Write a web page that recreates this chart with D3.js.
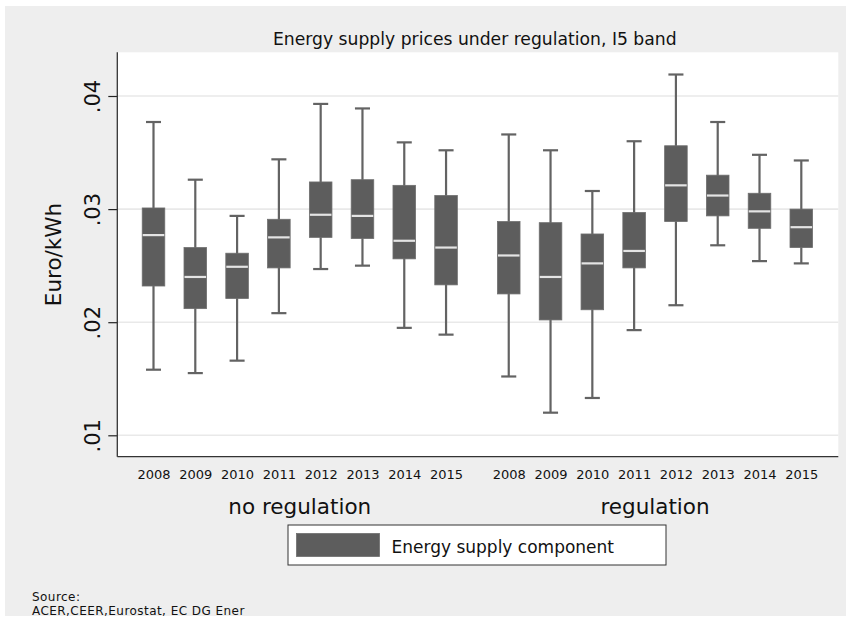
<!DOCTYPE html>
<html>
<head>
<meta charset="utf-8">
<script src="https://cdn.jsdelivr.net/npm/d3@7/dist/d3.min.js"></script>
<style>
  html, body { margin: 0; padding: 0; background: #ffffff; }
  svg { display: block; font-family: "DejaVu Sans", Verdana, sans-serif; }
</style>
</head>
<body>
<svg id="chart" width="850" height="622"></svg>
<script>
// ---- data ----
const years = ["2008", "2009", "2010", "2011", "2012", "2013", "2014", "2015"];
const groups = ["no regulation", "regulation"];
const yTicks = [0.01, 0.02, 0.03, 0.04];
const yTickLabels = [".01", ".02", ".03", ".04"];

// no regulation
const noRegUpper  = [0.0377, 0.0326, 0.0294, 0.0344, 0.0393, 0.0389, 0.0359, 0.0352];
const noRegQ3     = [0.0301, 0.0266, 0.0261, 0.0291, 0.0324, 0.0326, 0.0321, 0.0312];
const noRegMedian = [0.0277, 0.0240, 0.0249, 0.0275, 0.0295, 0.0294, 0.0272, 0.0266];
const noRegQ1     = [0.0232, 0.0212, 0.0221, 0.0248, 0.0275, 0.0274, 0.0256, 0.0233];
const noRegLower  = [0.0158, 0.0155, 0.0166, 0.0208, 0.0247, 0.0250, 0.0195, 0.0189];

// regulation
const regUpper  = [0.0366, 0.0352, 0.0316, 0.0360, 0.0419, 0.0377, 0.0348, 0.0343];
const regQ3     = [0.0289, 0.0288, 0.0278, 0.0297, 0.0356, 0.0330, 0.0314, 0.0300];
const regMedian = [0.0259, 0.0240, 0.0252, 0.0263, 0.0321, 0.0312, 0.0298, 0.0284];
const regQ1     = [0.0225, 0.0202, 0.0211, 0.0248, 0.0289, 0.0294, 0.0283, 0.0266];
const regLower  = [0.0152, 0.0120, 0.0133, 0.0193, 0.0215, 0.0268, 0.0254, 0.0252];

const titleText = "Energy supply prices under regulation, I5 band";
const yTitle = "Euro/kWh";
const legendLabel = "Energy supply component";
const sourceLines = ["Source:", "ACER,CEER,Eurostat, EC DG Ener"];

// ---- build table ----
const seriesByGroup = [
  {upper: noRegUpper, q3: noRegQ3, med: noRegMedian, q1: noRegQ1, lower: noRegLower},
  {upper: regUpper, q3: regQ3, med: regMedian, q1: regQ1, lower: regLower}
];
const boxes = [];
seriesByGroup.forEach((s, g) => {
  years.forEach((yr, i) => {
    boxes.push({group: g, year: yr, pos: i + g * 8.5,
      upper: s.upper[i], q3: s.q3[i], med: s.med[i], q1: s.q1[i], lower: s.lower[i]});
  });
});

// ---- layout ----
const svg = d3.select("#chart");
const plot = {left: 117.3, right: 838.3, top: 52.3, bottom: 456.7};

const x = d3.scaleLinear().domain([0, 15.5]).range([153.5, 801.3]);
const y = d3.scaleLinear().domain([0.01, 0.04]).range([435.3, 96]);

const boxFill = "#5d5d5d";
const whiskerColor = "#636363";

// graph background
svg.append("rect").attr("x", 0).attr("y", 0).attr("width", 850).attr("height", 622).attr("fill", "#ffffff");
svg.append("rect").attr("x", 5).attr("y", 6).attr("width", 841).attr("height", 610).attr("fill", "#eeeeee");

// plot region
svg.append("rect").attr("x", plot.left).attr("y", plot.top)
  .attr("width", plot.right - plot.left).attr("height", plot.bottom - plot.top)
  .attr("fill", "#ffffff");

// gridlines
svg.append("g").selectAll("line").data(yTicks).join("line")
  .attr("x1", plot.left).attr("x2", plot.right)
  .attr("y1", d => y(d)).attr("y2", d => y(d))
  .attr("stroke", "#e9e9e9").attr("stroke-width", 1.6);

// y axis
const yAxis = d3.axisLeft(y).tickValues(yTicks)
  .tickFormat((d, i) => yTickLabels[i]).tickSize(9).tickSizeOuter(0);
const gy = svg.append("g").attr("transform", `translate(${plot.left},0)`).call(yAxis);
gy.select(".domain").remove();
gy.selectAll(".tick line").attr("stroke", "#222").attr("stroke-width", 1.2);
gy.selectAll(".tick text")
  .attr("transform", "rotate(-90)")
  .attr("x", 0).attr("y", -17).attr("dy", 0)
  .attr("text-anchor", "middle")
  .attr("font-size", 21).attr("fill", "#111")
  .attr("font-family", "DejaVu Sans");

// axis lines
svg.append("line").attr("x1", plot.left).attr("x2", plot.left)
  .attr("y1", plot.top).attr("y2", plot.bottom).attr("stroke", "#333").attr("stroke-width", 1.3);
svg.append("line").attr("x1", plot.left).attr("x2", plot.right)
  .attr("y1", plot.bottom).attr("y2", plot.bottom).attr("stroke", "#333").attr("stroke-width", 1.3);

// boxes
const bw = x(0.54) - x(0);
const capW = x(0.36) - x(0);
const gb = svg.append("g").selectAll("g").data(boxes).join("g");
gb.append("line")
  .attr("x1", d => x(d.pos)).attr("x2", d => x(d.pos))
  .attr("y1", d => y(d.upper)).attr("y2", d => y(d.lower))
  .attr("stroke", whiskerColor).attr("stroke-width", 2.2);
gb.append("line")
  .attr("x1", d => x(d.pos) - capW / 2).attr("x2", d => x(d.pos) + capW / 2)
  .attr("y1", d => y(d.upper)).attr("y2", d => y(d.upper))
  .attr("stroke", whiskerColor).attr("stroke-width", 2.2);
gb.append("line")
  .attr("x1", d => x(d.pos) - capW / 2).attr("x2", d => x(d.pos) + capW / 2)
  .attr("y1", d => y(d.lower)).attr("y2", d => y(d.lower))
  .attr("stroke", whiskerColor).attr("stroke-width", 2.2);
gb.append("rect")
  .attr("x", d => x(d.pos) - bw / 2).attr("width", bw)
  .attr("y", d => y(d.q3)).attr("height", d => y(d.q1) - y(d.q3))
  .attr("fill", boxFill).attr("stroke", "#6e6e6e").attr("stroke-width", 0.8);
gb.append("line")
  .attr("x1", d => x(d.pos) - bw / 2 + 0.5).attr("x2", d => x(d.pos) + bw / 2 - 0.5)
  .attr("y1", d => y(d.med)).attr("y2", d => y(d.med))
  .attr("stroke", "#e4e4e4").attr("stroke-width", 2.2);

// year labels
const xAxis = d3.axisBottom(x).tickValues(boxes.map(d => d.pos))
  .tickFormat((d, i) => boxes[i].year).tickSize(0);
const gx = svg.append("g").attr("transform", `translate(0,${plot.bottom})`).call(xAxis);
gx.select(".domain").remove();
gx.selectAll(".tick text").attr("y", 0).attr("dy", 0)
  .attr("transform", "translate(0,21.8)")
  .attr("font-size", 13).attr("fill", "#111").attr("font-family", "DejaVu Sans");

// group labels
svg.append("g").selectAll("text").data(groups).join("text")
  .attr("x", (d, g) => (x(g * 8.5) + x(7 + g * 8.5)) / 2)
  .attr("y", 514)
  .attr("text-anchor", "middle").attr("font-size", 21.5).attr("fill", "#111")
  .text(d => d);

// y title
svg.append("text")
  .attr("transform", `translate(61,${(plot.top + plot.bottom) / 2}) rotate(-90)`)
  .attr("text-anchor", "middle").attr("font-size", 21.5).attr("fill", "#111")
  .text(yTitle);

// title
svg.append("text").attr("x", (plot.left + plot.right) / 2 - 3).attr("y", 45)
  .attr("text-anchor", "middle").attr("font-size", 17.2).attr("fill", "#111")
  .text(titleText);

// legend
const lg = svg.append("g");
lg.append("rect").attr("x", 288).attr("y", 525).attr("width", 378).attr("height", 40)
  .attr("fill", "#ffffff").attr("stroke", "#333").attr("stroke-width", 1);
lg.append("rect").attr("x", 296.5).attr("y", 533.5).attr("width", 83).attr("height", 23)
  .attr("fill", boxFill).attr("stroke", "#6e6e6e").attr("stroke-width", 0.8);
lg.append("text").attr("x", 391.5).attr("y", 552.5)
  .attr("font-size", 17).attr("fill", "#111").text(legendLabel);

// source note
svg.append("g").selectAll("text").data(sourceLines).join("text")
  .attr("x", 32).attr("y", (d, i) => 601 + i * 13.5)
  .attr("font-size", 12).attr("letter-spacing", 0.45)
  .attr("fill", "#111").text(d => d);
</script>
</body>
</html>
